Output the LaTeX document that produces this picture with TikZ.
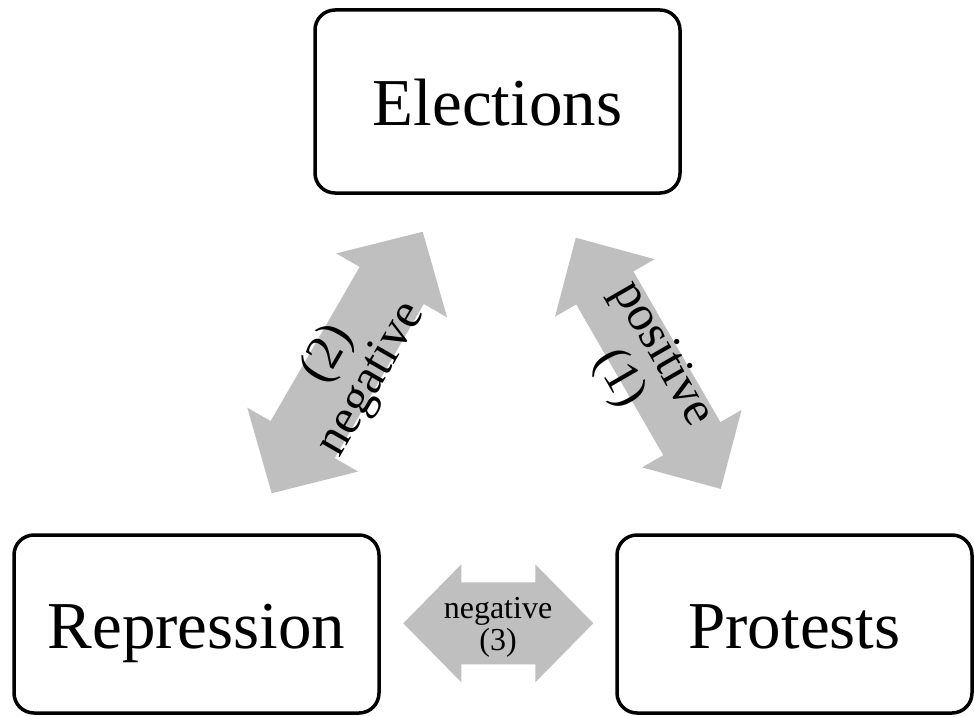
\documentclass[tikz,border=0pt]{standalone}
\usepackage{fontspec}
\setmainfont{Liberation Serif}
\definecolor{arrowgray}{HTML}{BFBFBF}
\newcommand\dblockarrow[8]{% name, cx, cy, angle, half length, head length, head half width, shaft half width
  \coordinate (#1) at (#2,#3);
  \fill[arrowfill, shift={(#1)}, rotate=#4]
    (-#5,0) -- (-#5+#6,#7) -- (-#5+#6,#8) -- (#5-#6,#8) -- (#5-#6,#7) -- (#5,0)
    -- (#5-#6,-#7) -- (#5-#6,-#8) -- (-#5+#6,-#8) -- (-#5+#6,-#7) -- cycle;}
\tikzset{
  box/.style={draw, line width=3.5pt, rounded corners=20pt, inner sep=0pt,
    text height=48pt, text depth=0pt, font=\fontsize{67}{80}\selectfont},
  arrowfill/.style={fill=arrowgray},
  biglabel/.style={align=center, inner sep=0pt, font=\fontsize{50}{50}\selectfont},
  smalllabel/.style={align=center, inner sep=0pt, font=\fontsize{32}{32}\selectfont}
}
\begin{document}
\begin{tikzpicture}[x=1pt, y=-1pt]
\useasboundingbox (0,0) rectangle (974,717);
% boxes
\node[box, minimum width=365pt, minimum height=183pt] (elec) at (497.5,101.5) {Elections};
\node[box, minimum width=365pt, minimum height=178pt] (repr) at (196.5,624) {Repression};
\node[box, minimum width=355pt, minimum height=178pt] (prot) at (794.5,624) {Protests};
% double block arrows
\dblockarrow{a2}{347.2}{362.5}{60}{151}{62}{64}{37}
\dblockarrow{a1}{648.3}{363.3}{-60}{145}{58}{57.5}{33}
\dblockarrow{a3}{498.3}{623.3}{0}{95}{58}{59}{41}
% labels
\node[biglabel, rotate=60] (l2) at (350,367) {(2)\\negative};
\node[biglabel, rotate=-60] (l1) at (640,367) {positive\\(1)};
\node[smalllabel] (l3) at (498,627) {negative\\(3)};
\end{tikzpicture}
\end{document}
